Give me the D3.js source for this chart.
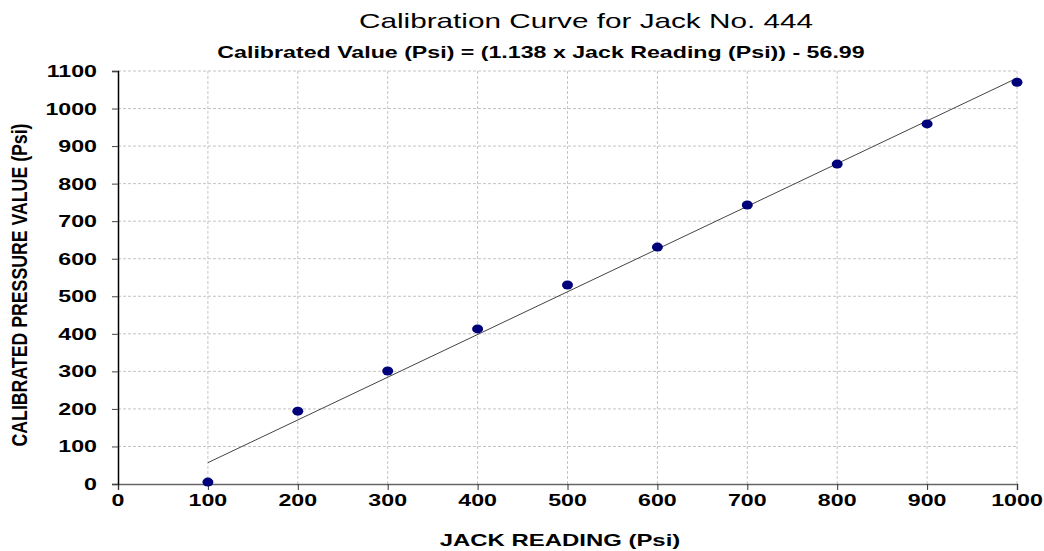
<!DOCTYPE html>
<html>
<head>
<meta charset="utf-8">
<script src="https://cdn.jsdelivr.net/npm/d3@7"></script>
<style>
  body { margin: 0; background: #fff; }
  text { font-family: "Liberation Sans", Arial, sans-serif; fill: #000; }
</style>
</head>
<body>
<svg id="chart" width="1044" height="551"></svg>
<script>
// jack readings and calibrated values
var jackReading = [100, 200, 300, 400, 500, 600, 700, 800, 900, 1000];
var calibrated  = [5, 194, 301, 413, 530, 631, 743, 852, 959, 1070];

// trendline from the subtitle equation
var slope = 1.138, intercept = -56.99;

var xTicks = [0, 100, 200, 300, 400, 500, 600, 700, 800, 900, 1000];
var yTicks = [0, 100, 200, 300, 400, 500, 600, 700, 800, 900, 1000, 1100];

var svg = d3.select("#chart");

// the original image is stretched sideways, so text gets widened too
var stretch = 1.45;

var x = d3.scaleLinear().domain([0, 1000]).range([118, 1017]);
var y = d3.scaleLinear().domain([0, 1100]).range([484, 71]);

// adds a horizontally stretched text anchored at (px, py)
function wideText(px, py, txt, size, bold, anchor) {
  return svg.append("text")
      .attr("transform", "translate(" + px + "," + py + ") scale(" + stretch + ",1)")
      .attr("text-anchor", anchor || "middle")
      .style("font-size", size + "px")
      .style("font-weight", bold ? "bold" : "normal")
      .text(txt);
}

// gridlines
svg.append("g").selectAll("line")
  .data(xTicks.slice(1))
  .enter().append("line")
    .attr("x1", function(d) { return x(d); })
    .attr("x2", function(d) { return x(d); })
    .attr("y1", y(0)).attr("y2", y(1100))
    .attr("stroke", "#c4c4c4").attr("stroke-dasharray", "3,2");

svg.append("g").selectAll("line")
  .data(yTicks.slice(1))
  .enter().append("line")
    .attr("x1", x(0)).attr("x2", x(1000))
    .attr("y1", function(d) { return y(d); })
    .attr("y2", function(d) { return y(d); })
    .attr("stroke", "#c4c4c4").attr("stroke-dasharray", "3,2");

// axes (labels are drawn separately below)
var xAxis = svg.append("g")
    .attr("transform", "translate(0," + y(0) + ")")
    .call(d3.axisBottom(x).tickValues(xTicks).tickSize(6).tickFormat(""));
xAxis.select(".domain").attr("stroke", "#666").attr("stroke-width", 1.5);
xAxis.selectAll(".tick line").attr("stroke", "#333");

var yAxis = svg.append("g")
    .attr("transform", "translate(" + x(0) + ",0)")
    .call(d3.axisLeft(y).tickValues(yTicks).tickSize(6).tickFormat(""));
yAxis.select(".domain").attr("stroke", "#000").attr("stroke-width", 1.5);
yAxis.selectAll(".tick line").attr("stroke", "#444");

// tick labels
xTicks.forEach(function(d) {
  wideText(x(d), 506, d, 16, true, "middle");
});
yTicks.forEach(function(d) {
  wideText(97, y(d) + 6, d, 16, true, "end");
});

// trendline
svg.append("line")
    .attr("x1", x(100)).attr("y1", y(slope * 100 + intercept))
    .attr("x2", x(1000)).attr("y2", y(slope * 1000 + intercept))
    .attr("stroke", "#444").attr("stroke-width", 1);

// points
svg.append("g").selectAll("ellipse")
  .data(jackReading)
  .enter().append("ellipse")
    .attr("cx", function(d) { return x(d); })
    .attr("cy", function(d, i) { return y(calibrated[i]); })
    .attr("rx", 5.5).attr("ry", 4.5)
    .attr("fill", "#00007a");

// titles
wideText(586, 28, "Calibration Curve for Jack No. 444", 20.5, false);
wideText(541, 58, "Calibrated Value (Psi) = (1.138 x Jack Reading (Psi)) - 56.99", 16, true);
wideText(560, 546, "JACK READING (Psi)", 16.5, true);

// y axis title: rotated, then widened across the page
svg.append("text")
    .attr("transform", "translate(27,285) scale(" + stretch + ",1) rotate(-90)")
    .attr("text-anchor", "middle")
    .attr("textLength", 323)
    .attr("lengthAdjust", "spacingAndGlyphs")
    .style("font-size", "15px").style("font-weight", "bold")
    .text("CALIBRATED PRESSURE VALUE  (Psi)");
</script>
</body>
</html>
